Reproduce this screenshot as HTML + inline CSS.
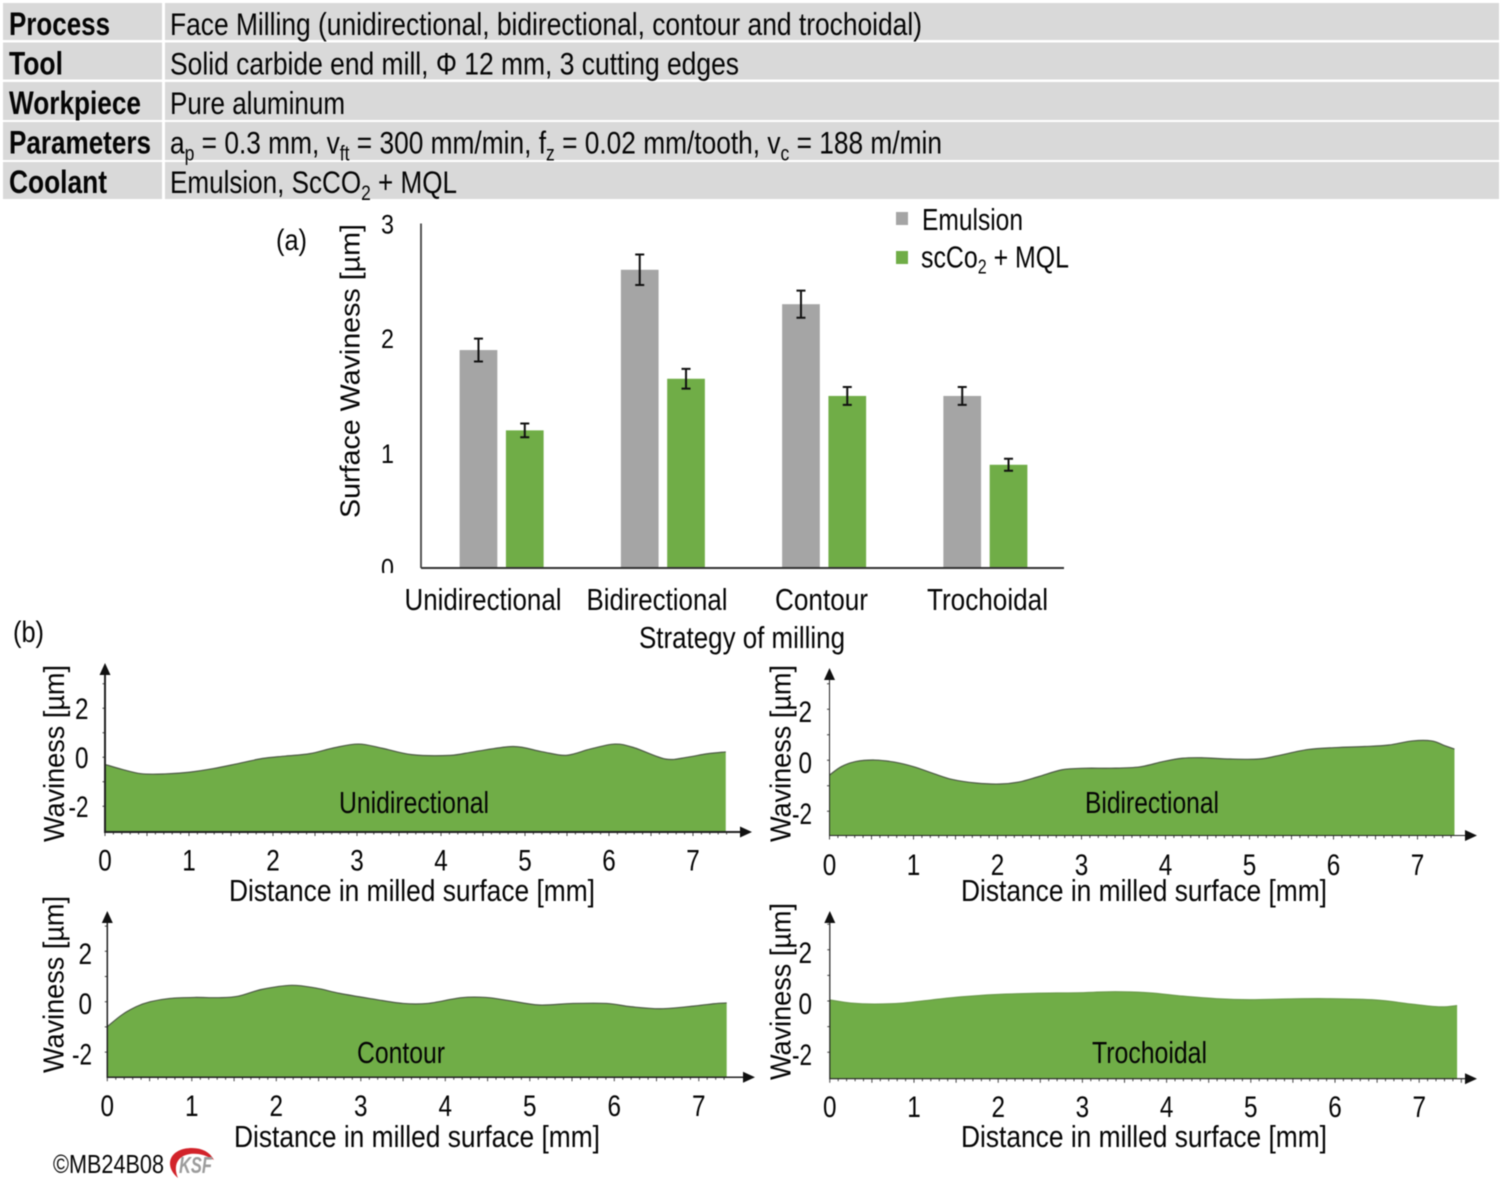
<!DOCTYPE html>
<html lang="en">
<head>
<meta charset="utf-8">
<title>Face milling surface waviness</title>
<style>
html,body{margin:0;padding:0;background:#fff}
svg{display:block;filter:blur(.5px)}
text{font-family:"Liberation Sans",sans-serif;fill:#050505}
</style>
</head>
<body>
<svg id="figure" xmlns="http://www.w3.org/2000/svg" width="1502" height="1180" viewBox="0 0 1502 1180">
  <defs>
    <clipPath id="zero-clip"><rect x="370" y="540" width="40" height="33"/></clipPath>
  </defs>
  <rect width="1502" height="1180" fill="#fff"/>

  <g>
    <rect x="3" y="3" width="159" height="37" fill="#d9d9d9"/>
    <rect x="165" y="3" width="1334" height="37" fill="#d9d9d9"/>
    <rect x="3" y="42.5" width="159" height="37" fill="#d9d9d9"/>
    <rect x="165" y="42.5" width="1334" height="37" fill="#d9d9d9"/>
    <rect x="3" y="82" width="159" height="38" fill="#d9d9d9"/>
    <rect x="165" y="82" width="1334" height="38" fill="#d9d9d9"/>
    <rect x="3" y="122" width="159" height="38" fill="#d9d9d9"/>
    <rect x="165" y="122" width="1334" height="38" fill="#d9d9d9"/>
    <rect x="3" y="162" width="159" height="37" fill="#d9d9d9"/>
    <rect x="165" y="162" width="1334" height="37" fill="#d9d9d9"/>

    <text x="9" y="35" font-size="32" font-weight="700" textLength="101" lengthAdjust="spacingAndGlyphs">Process</text>
    <text x="9" y="74.5" font-size="32" font-weight="700" textLength="54" lengthAdjust="spacingAndGlyphs">Tool</text>
    <text x="9" y="114" font-size="32" font-weight="700" textLength="132" lengthAdjust="spacingAndGlyphs">Workpiece</text>
    <text x="9" y="153.5" font-size="32" font-weight="700" textLength="142" lengthAdjust="spacingAndGlyphs">Parameters</text>
    <text x="9" y="193" font-size="32" font-weight="700" textLength="98" lengthAdjust="spacingAndGlyphs">Coolant</text>

    <text x="170" y="35" font-size="31.5" textLength="752" lengthAdjust="spacingAndGlyphs">Face Milling (unidirectional, bidirectional, contour and trochoidal)</text>
    <text x="170" y="74.5" font-size="31.5" textLength="569" lengthAdjust="spacingAndGlyphs">Solid carbide end mill, Φ 12 mm, 3 cutting edges</text>
    <text x="170" y="114" font-size="31.5" textLength="175" lengthAdjust="spacingAndGlyphs">Pure aluminum</text>
    <text x="170" y="153.5" font-size="31.5" textLength="772" lengthAdjust="spacingAndGlyphs">a<tspan font-size="21" dy="7">p</tspan><tspan dy="-7"> = 0.3 mm, v</tspan><tspan font-size="21" dy="7">ft</tspan><tspan dy="-7"> = 300 mm/min, f</tspan><tspan font-size="21" dy="7">z</tspan><tspan dy="-7"> = 0.02 mm/tooth, v</tspan><tspan font-size="21" dy="7">c</tspan><tspan dy="-7"> = 188 m/min</tspan></text>
    <text x="170" y="193" font-size="31.5" textLength="287" lengthAdjust="spacingAndGlyphs">Emulsion, ScCO<tspan font-size="21" dy="7">2</tspan><tspan dy="-7"> + MQL</tspan></text>
  </g>

  <text x="276" y="250" font-size="30" textLength="31" lengthAdjust="spacingAndGlyphs">(a)</text>
  <text x="13" y="642" font-size="30" textLength="31" lengthAdjust="spacingAndGlyphs">(b)</text>

  <g id="bar-chart">
    <text x="359.5" y="518" font-size="28" textLength="294" lengthAdjust="spacingAndGlyphs" transform="rotate(-90 359.5 518)">Surface Waviness [µm]</text>
    <text x="639" y="648" font-size="31" textLength="206" lengthAdjust="spacingAndGlyphs">Strategy of milling</text>
    <rect x="896" y="212" width="12" height="13" fill="#a5a5a5"/>
    <text x="922" y="230" font-size="31" textLength="101" lengthAdjust="spacingAndGlyphs">Emulsion</text>
    <rect x="896" y="251" width="12" height="13" fill="#70ad47"/>
    <text x="921" y="267.5" font-size="31" textLength="148" lengthAdjust="spacingAndGlyphs">scCo<tspan font-size="20" dy="6">2</tspan><tspan dy="-6"> + MQL</tspan></text>
  </g>

  <g id="profiles"></g>

  <g>
    <text x="53" y="1173" font-size="26" textLength="111" lengthAdjust="spacingAndGlyphs">©MB24B08</text>
    <path d="M178 1178C163 1165 170 1148 192 1148C202 1148 210 1152 214 1160C206 1155 198 1153 190 1154C177 1156 173 1166 178 1178Z" fill="#d2232a"/>
    <text x="179" y="1173" font-size="23" font-weight="700" font-style="italic" textLength="33" lengthAdjust="spacingAndGlyphs" style="fill:#9c9c9c">KSF</text>
  </g>
</svg>

<script>
/* ---------- bar chart data ---------- */
const barCategories = ['Unidirectional', 'Bidirectional', 'Contour', 'Trochoidal'];
const emulsionValues = [1.9, 2.6, 2.3, 1.5];
const emulsionErrors = [0.1, 0.133, 0.118, 0.078];
const mqlValues = [1.2, 1.65, 1.5, 0.9];
const mqlErrors = [0.06, 0.086, 0.078, 0.052];
const barTickLabels = [0, 1, 2, 3];

/* ---------- profile data: distance [mm] and waviness [um] ---------- */
const unidirectionalDistance = [0, 0.2, 0.43, 0.71, 1.0, 1.29, 1.58, 1.87, 2.15, 2.44, 2.73, 3.02, 3.3, 3.65, 4.11, 4.4, 4.86, 5.2, 5.49, 5.78, 6.07, 6.3, 6.67, 6.93, 7.16, 7.39];
const unidirectionalWaviness = [-0.29, -0.49, -0.67, -0.68, -0.61, -0.46, -0.26, -0.05, 0.05, 0.15, 0.39, 0.54, 0.37, 0.11, 0.08, 0.23, 0.44, 0.23, 0.08, 0.34, 0.54, 0.39, -0.07, 0, 0.14, 0.22];
const bidirectionalDistance = [0, 0.14, 0.31, 0.54, 0.77, 1.0, 1.23, 1.46, 1.74, 2.03, 2.26, 2.49, 2.77, 3.06, 3.34, 3.69, 3.97, 4.2, 4.43, 4.77, 5.11, 5.34, 5.69, 6.03, 6.37, 6.66, 6.94, 7.17, 7.32, 7.44];
const bidirectionalWaviness = [-0.58, -0.25, -0.05, 0.01, -0.07, -0.25, -0.51, -0.75, -0.89, -0.93, -0.85, -0.64, -0.37, -0.31, -0.31, -0.26, -0.05, 0.08, 0.1, 0.05, 0.05, 0.18, 0.42, 0.5, 0.54, 0.6, 0.76, 0.76, 0.58, 0.44];
const contourDistance = [0, 0.17, 0.34, 0.51, 0.74, 1.03, 1.32, 1.55, 1.83, 2.18, 2.47, 2.75, 3.1, 3.5, 3.79, 4.19, 4.48, 4.76, 5.11, 5.51, 5.91, 6.2, 6.55, 6.95, 7.18, 7.33];
const contourWaviness = [-0.99, -0.53, -0.2, 0, 0.13, 0.17, 0.16, 0.22, 0.49, 0.65, 0.54, 0.33, 0.13, -0.07, -0.07, 0.16, 0.17, 0.04, -0.13, -0.07, -0.07, -0.2, -0.28, -0.17, -0.08, -0.05];
const trochoidalDistance = [0, 0.25, 0.53, 0.87, 1.21, 1.56, 1.96, 2.42, 2.93, 3.39, 3.79, 4.19, 4.59, 4.99, 5.45, 5.91, 6.48, 6.93, 7.25, 7.45];
const trochoidalWaviness = [0.04, -0.08, -0.12, -0.08, 0.04, 0.16, 0.25, 0.3, 0.32, 0.36, 0.32, 0.19, 0.09, 0.05, 0.08, 0.09, 0.04, -0.13, -0.23, -0.18];
const profileXTicks = [0, 1, 2, 3, 4, 5, 6, 7];
const profileYTicks = [-2, 0, 2];

const NS = 'http://www.w3.org/2000/svg';
function make(parent, tag, attrs) {
  const el = document.createElementNS(NS, tag);
  for (const k in attrs) el.setAttribute(k, attrs[k]);
  parent.appendChild(el);
  return el;
}
function makeText(parent, x, y, str, size, length, anchor) {
  const el = make(parent, 'text', {x: x, y: y, 'font-size': size, 'text-anchor': anchor || 'start', textLength: length, lengthAdjust: 'spacingAndGlyphs'});
  el.textContent = str;
  return el;
}

/* ---------- bar chart ---------- */
(function drawBars() {
  const chart = document.getElementById('bar-chart');
  const axisLeft = 421, axisBottom = 568, axisTop = 223.5, axisRight = 1064;
  const unit = 114.7;
  const band = 161.25, barW = 37.7, gap = 8.6;
  const yScale = v => axisBottom - v * unit;
  const groupCenter = i => axisLeft + band * (i + 0.5);
  const labelCenters = [483, 657, 821.5, 987.5];
  const labelWidths = [157, 141, 93, 121];

  function drawBar(kind, i, value, err, fill, x) {
    const top = yScale(value);
    const bar = make(chart, 'rect', {x: x, y: top, width: barW, height: axisBottom - top, fill: fill});
    
    
    const cx = x + barW / 2, hi = yScale(value + err), lo = yScale(value - err);
    const eb = make(chart, 'path', {d: 'M' + cx + ' ' + hi + 'V' + lo + 'M' + (cx - 4.5) + ' ' + hi + 'H' + (cx + 4.5) + 'M' + (cx - 4.5) + ' ' + lo + 'H' + (cx + 4.5), stroke: '#111', 'stroke-width': 2, fill: 'none'});
    
    
  }

  barCategories.forEach((name, i) => {
    const c = groupCenter(i);
    drawBar('emulsion', i, emulsionValues[i], emulsionErrors[i], '#a5a5a5', c - gap / 2 - barW);
    drawBar('mql', i, mqlValues[i], mqlErrors[i], '#70ad47', c + gap / 2);
    const lab = makeText(chart, labelCenters[i], 610, name, 31, labelWidths[i], 'middle');
    
    
  });

  barTickLabels.forEach(v => {
    const t = makeText(chart, 387.5, yScale(v) + 9.5, String(v), 27, 13, 'middle');
    
    
    if (v === 0) t.setAttribute('clip-path', 'url(#zero-clip)');
  });

  const yAxis = make(chart, 'line', {x1: axisLeft, x2: axisLeft, y1: axisTop, y2: axisBottom, stroke: '#444', 'stroke-width': 1.8});
  
  
  const xAxis = make(chart, 'line', {x1: axisLeft, x2: axisRight, y1: axisBottom, y2: axisBottom, stroke: '#333', 'stroke-width': 2});
  
  
})();

/* ---------- profile panels ---------- */
function smoothPath(pts) {
  let d = 'M' + pts[0][0] + ' ' + pts[0][1];
  for (let i = 0; i < pts.length - 1; i++) {
    const p0 = pts[Math.max(0, i - 1)], p1 = pts[i], p2 = pts[i + 1], p3 = pts[Math.min(pts.length - 1, i + 2)];
    const c1x = p1[0] + (p2[0] - p0[0]) / 6, c1y = p1[1] + (p2[1] - p0[1]) / 6;
    const c2x = p2[0] - (p3[0] - p1[0]) / 6, c2y = p2[1] - (p3[1] - p1[1]) / 6;
    d += 'C' + c1x.toFixed(2) + ' ' + c1y.toFixed(2) + ' ' + c2x.toFixed(2) + ' ' + c2y.toFixed(2) + ' ' + p2[0].toFixed(2) + ' ' + p2[1].toFixed(2);
  }
  return d;
}

function drawProfile(cfg, distance, waviness) {
  const root = document.getElementById('profiles');
  const g = make(root, 'g', {});
  
  
  const xScale = d => cfg.x0 + d * cfg.pxMm;
  const yScale = v => cfg.y0 - v * cfg.pxUm;

  const pts = distance.map((d, i) => [xScale(d), yScale(waviness[i])]);
  const top = smoothPath(pts);
  const lastX = pts[pts.length - 1][0];
  const area = make(g, 'path', {d: top + 'L' + lastX + ' ' + cfg.base + 'L' + pts[0][0] + ' ' + cfg.base + 'Z', fill: '#70ad47'});
  
  
  const line = make(g, 'path', {d: top, fill: 'none', stroke: cfg.lineColor, 'stroke-width': 1.2});
  
  

  let ticks = '';
  for (let n = 0; n <= Math.round(cfg.tickEnd * 10); n++) {
    const tx = xScale(n / 10);
    ticks += 'M' + tx.toFixed(1) + ' ' + cfg.base + 'v' + (n % 5 === 0 ? 4 : 2.5);
  }
  for (let v = -2; v <= 3; v++) {
    ticks += 'M' + cfg.x0 + ' ' + yScale(v).toFixed(1) + 'h-2.5';
  }
  const minor = make(g, 'path', {d: ticks, stroke: '#444', 'stroke-width': 1, fill: 'none'});
  
  

  const axes = make(g, 'path', {d: 'M' + cfg.x0 + ' ' + (cfg.yTip + 8) + 'V' + cfg.base + 'H' + (cfg.xTip - 8), stroke: '#222', 'stroke-width': cfg.axisW, fill: 'none'});
  
  
  const upArrow = make(g, 'path', {d: 'M' + cfg.x0 + ' ' + cfg.yTip + 'l5.5 12h-11Z', fill: '#111'});
  
  
  const rightArrow = make(g, 'path', {d: 'M' + cfg.xTip + ' ' + cfg.base + 'l-12 -5.5v11Z', fill: '#111'});
  
  

  profileXTicks.forEach(v => {
    const t = makeText(g, xScale(v), cfg.xLabelY, String(v), 30, 13.5, 'middle');
    
    
  });
  profileYTicks.forEach(v => {
    const t = makeText(g, cfg.yLabelX, yScale(v) + cfg.yLabelDy, String(v), 30, v < 0 ? 20 : 13.5, 'end');
    
    
  });

  const xt = makeText(g, cfg.titleX, cfg.titleY, 'Distance in milled surface [mm]', 31, 366);
  
  
  const yt = makeText(g, cfg.yTitleX, cfg.yTitleY, 'Waviness [µm]', 28.5, 177);
  yt.setAttribute('transform', 'rotate(-90 ' + cfg.yTitleX + ' ' + cfg.yTitleY + ')');
  
  
  const lab = makeText(g, cfg.labelX, cfg.labelY, cfg.label, 31, cfg.labelW);
  
  
}

drawProfile({name: 'unidirectional', label: 'Unidirectional', x0: 105, pxMm: 84, y0: 757.3, pxUm: 24.5, base: 832, yTip: 663, xTip: 752, tickEnd: 7.4, lineColor: '#4d5a45', axisW: 2, xLabelY: 870.5, yLabelX: 88.5, yLabelDy: 10.5, titleX: 229, titleY: 901, yTitleX: 64, yTitleY: 842, labelX: 339, labelY: 813, labelW: 150}, unidirectionalDistance, unidirectionalWaviness);
drawProfile({name: 'bidirectional', label: 'Bidirectional', x0: 829.5, pxMm: 84, y0: 760.3, pxUm: 25.5, base: 835.5, yTip: 668, xTip: 1477, tickEnd: 7.4, lineColor: '#4d5a45', axisW: 1, xLabelY: 875, yLabelX: 812, yLabelDy: 12.5, titleX: 961, titleY: 901, yTitleX: 790.5, yTitleY: 842, labelX: 1085, labelY: 813, labelW: 134}, bidirectionalDistance, bidirectionalWaviness);
drawProfile({name: 'contour', label: 'Contour', x0: 107.3, pxMm: 84.5, y0: 1001.7, pxUm: 25.2, base: 1077.3, yTip: 911, xTip: 755, tickEnd: 7.3, lineColor: '#4d5a45', axisW: 1.5, xLabelY: 1116, yLabelX: 92, yLabelDy: 12.5, titleX: 234, titleY: 1147, yTitleX: 63.5, yTitleY: 1073, labelX: 357, labelY: 1063, labelW: 88}, contourDistance, contourWaviness);
drawProfile({name: 'trochoidal', label: 'Trochoidal', x0: 829.8, pxMm: 84.2, y0: 1001, pxUm: 25.6, base: 1078.7, yTip: 911, xTip: 1477, tickEnd: 7.5, lineColor: '#6a9a4a', axisW: 1.2, xLabelY: 1117, yLabelX: 812, yLabelDy: 13, titleX: 961, titleY: 1147, yTitleX: 790.5, yTitleY: 1080, labelX: 1092, labelY: 1063, labelW: 115}, trochoidalDistance, trochoidalWaviness);
</script>
</body>
</html>
